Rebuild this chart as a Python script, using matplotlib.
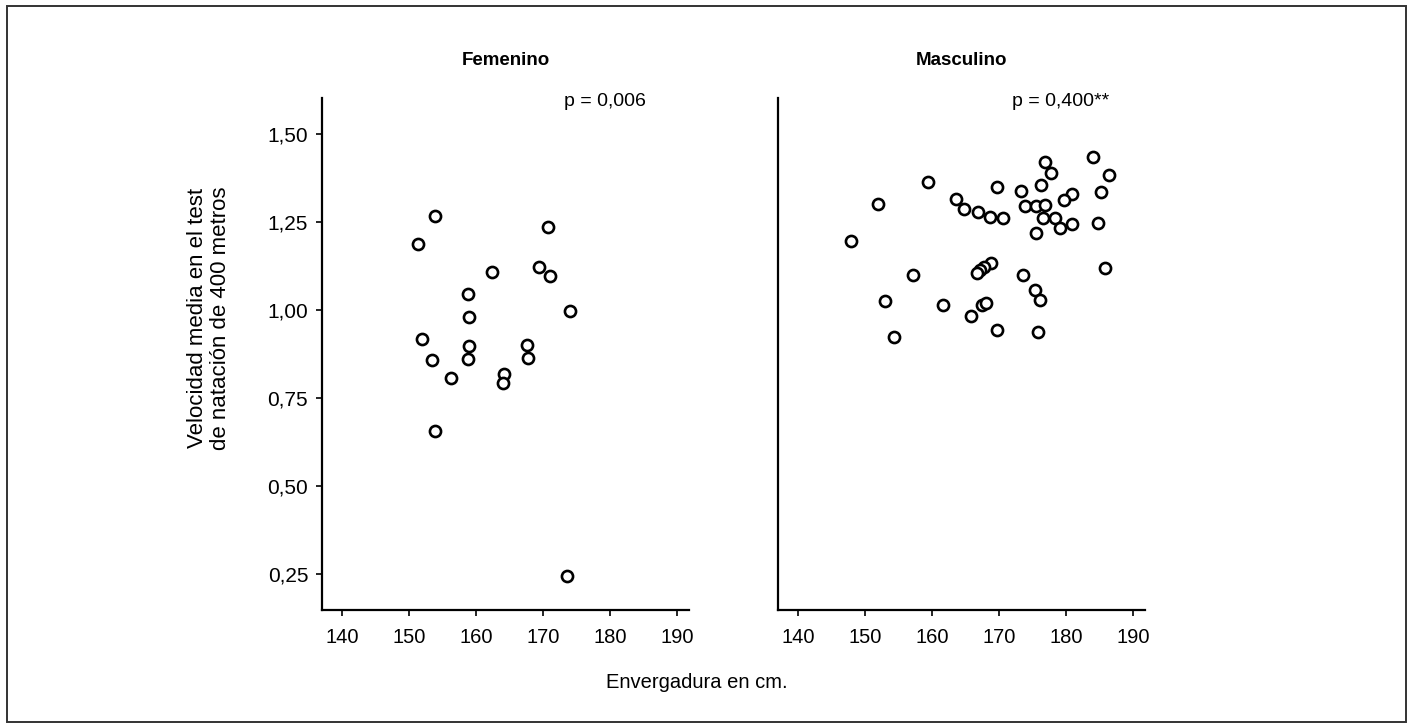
import matplotlib
matplotlib.use('Agg')
import matplotlib.pyplot as plt
from matplotlib.patches import Rectangle

plt.rcParams['font.family'] = ['Liberation Sans', 'DejaVu Sans']

# Femenino: envergadura (cm) y velocidad media (m/s)
fem_x = [153.8, 170.7, 151.3, 162.4, 169.4, 171.0, 158.8, 174.0, 159.0, 152.0,
         159.0, 167.6, 153.4, 158.8, 167.7, 156.2, 164.2, 164.0, 153.8, 173.6]
fem_y = [1.266, 1.235, 1.187, 1.108, 1.121, 1.097, 1.045, 0.996, 0.980, 0.917,
         0.898, 0.900, 0.858, 0.860, 0.865, 0.807, 0.819, 0.792, 0.655, 0.246]

# Masculino
mas_x = [184.1, 176.8, 177.8, 186.4, 159.4, 169.7, 176.3, 173.3, 185.2, 180.9,
         179.7, 151.9, 163.6, 173.9, 175.5, 176.9, 164.8, 166.9, 168.7, 170.6,
         176.6, 178.4, 179.1, 180.9, 184.8, 175.6, 147.9, 168.8, 167.7, 167.2,
         166.7, 185.9, 157.2, 173.6, 175.4, 153.0, 161.6, 167.4, 168.1, 176.1,
         165.8, 169.7, 175.8, 154.3]
mas_y = [1.434, 1.420, 1.388, 1.382, 1.363, 1.350, 1.355, 1.337, 1.335, 1.330,
         1.312, 1.302, 1.314, 1.296, 1.296, 1.298, 1.286, 1.278, 1.263, 1.260,
         1.262, 1.260, 1.234, 1.245, 1.246, 1.220, 1.197, 1.134, 1.123, 1.115,
         1.104, 1.119, 1.099, 1.099, 1.057, 1.026, 1.013, 1.013, 1.019, 1.028,
         0.983, 0.943, 0.937, 0.924]

x_ticks = [140, 150, 160, 170, 180, 190]
y_ticks = [0.25, 0.50, 0.75, 1.00, 1.25, 1.50]
y_labels = ['0,25', '0,50', '0,75', '1,00', '1,25', '1,50']

fig = plt.figure(figsize=(14.13, 7.25), dpi=100)
fig.patches.append(Rectangle((0.005, 0.004), 0.99, 0.988, transform=fig.transFigure,
                             fill=False, edgecolor='#333333', linewidth=1.4))

ax1 = fig.add_axes([0.2279, 0.1586, 0.2597, 0.7062])
ax2 = fig.add_axes([0.5506, 0.1586, 0.2597, 0.7062])

panels = [(ax1, fem_x, fem_y, 'Femenino', 'p = 0,006'),
          (ax2, mas_x, mas_y, 'Masculino', 'p = 0,400**')]

for ax, xs, ys, title, ptxt in panels:
    ax.scatter(xs, ys, s=64, facecolors='white', edgecolors='black', linewidths=1.9, zorder=3)
    ax.set_xlim(137.0, 191.8)
    ax.set_ylim(0.148, 1.602)
    ax.set_xticks(x_ticks)
    ax.spines['top'].set_visible(False)
    ax.spines['right'].set_visible(False)
    ax.spines['left'].set_linewidth(1.6)
    ax.spines['bottom'].set_linewidth(1.6)
    ax.tick_params(axis='x', direction='out', length=4, width=1.2, labelsize=14.5, pad=9)
    ax.text(0.5, 1.074, title, transform=ax.transAxes, ha='center', va='center',
            fontsize=13.5, fontweight='bold')
    ax.text(0.77, 0.994, ptxt, transform=ax.transAxes, ha='center', va='center', fontsize=14)

ax1.set_yticks(y_ticks)
ax1.set_yticklabels(y_labels)
ax1.tick_params(axis='y', direction='out', length=4, width=1.2, labelsize=15, pad=6)
ax2.set_yticks([])

fig.text(0.148, 0.561, 'Velocidad media en el test\nde natación de 400 metros',
         rotation=90, ha='center', va='center', fontsize=16, linespacing=1.15)
fig.text(0.493, 0.058, 'Envergadura en cm.', ha='center', va='center', fontsize=14.5)

fig.savefig('out.png', dpi=100)
